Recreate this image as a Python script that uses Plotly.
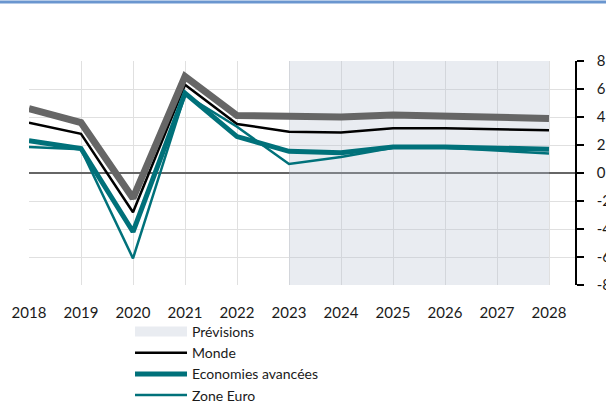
import plotly.graph_objects as go

years = [2018, 2019, 2020, 2021, 2022, 2023, 2024, 2025, 2026, 2027, 2028]
monde = [3.6, 2.8, -2.8, 6.3, 3.5, 2.95, 2.9, 3.2, 3.2, 3.15, 3.05]
avancees = [2.3, 1.75, -4.2, 5.7, 2.6, 1.55, 1.45, 1.85, 1.85, 1.75, 1.7]
zone_euro = [1.85, 1.7, -6.1, 5.6, 3.3, 0.65, 1.15, 1.8, 1.8, 1.6, 1.4]
emergentes = [4.6, 3.6, -1.8, 6.9, 4.1, 4.0, 4.0, 4.15, 4.1, 4.0, 3.9]
forecast_x = [2023, 2028, 2028, 2023]
forecast_y = [-8, -8, 8, 8]
y_ticks = [8, 6, 4, 2, 0, -2, -4, -6, -8]
y_tick_text = ["8", "6", "4", "2", "0", "-2", "-4", "-6", "-8"]

TEAL = "#00717a"
FONT = "Lato"

fig = go.Figure()
fig.add_trace(go.Scatter(x=forecast_x, y=forecast_y, name="Prévisions", mode="lines",
                         fill="toself", fillcolor="rgba(182,192,208,0.3)",
                         line=dict(width=0, color="rgba(0,0,0,0)"), hoverinfo="skip",
                         showlegend=False))
# legend swatch for the forecast band
fig.add_trace(go.Scatter(x=[None], y=[None], name="Prévisions", mode="lines",
                         line=dict(width=10, color="#e9ecf1")))
fig.add_trace(go.Scatter(x=years, y=monde, name="Monde", mode="lines",
                         line=dict(color="#000000", width=2.5)))
fig.add_trace(go.Scatter(x=years, y=avancees, name="Economies avancées", mode="lines",
                         line=dict(color=TEAL, width=5)))
fig.add_trace(go.Scatter(x=years, y=zone_euro, name="Zone Euro", mode="lines",
                         line=dict(color=TEAL, width=2.5)))
fig.add_trace(go.Scatter(x=years, y=emergentes, name="Economies émergentes", mode="lines",
                         line=dict(color="#666666", width=7), showlegend=False))

# top blue rule
fig.add_shape(type="line", xref="paper", yref="paper", x0=-0.06, x1=1.07,
              y0=1.263, y1=1.263, line=dict(color="#6a96cf", width=3))

fig.update_layout(
    width=606, height=401,
    margin=dict(l=29, r=31, t=61, b=116, autoexpand=False),
    plot_bgcolor="white", paper_bgcolor="white",
    font=dict(family=FONT, size=15, color="#1a1a1a"),
    showlegend=True,
    legend=dict(x=0.185, y=-0.138, xanchor="left", yanchor="top",
                orientation="v", itemwidth=52, font=dict(size=14, family=FONT),
                bgcolor="rgba(0,0,0,0)", tracegroupgap=0),
    xaxis=dict(range=[2018, 2028.5], tickvals=years, showgrid=True,
               gridcolor="#e0e0e0", gridwidth=1, zeroline=False, showline=False,
               ticks="", ticklabelstandoff=17, tickfont=dict(size=15), automargin=False),
    yaxis=dict(range=[-8, 8], side="right", tickvals=y_ticks, ticktext=y_tick_text,
               showgrid=True, gridcolor="#e0e0e0", gridwidth=1,
               zeroline=True, zerolinecolor="#666666", zerolinewidth=1.5,
               showline=True, linecolor="#000000", linewidth=1.5,
               ticks="outside", ticklen=7, tickcolor="#000000", tickwidth=1.5,
               ticklabelstandoff=10, tickfont=dict(size=15), automargin=False),
)

fig.write_html("out.html")
